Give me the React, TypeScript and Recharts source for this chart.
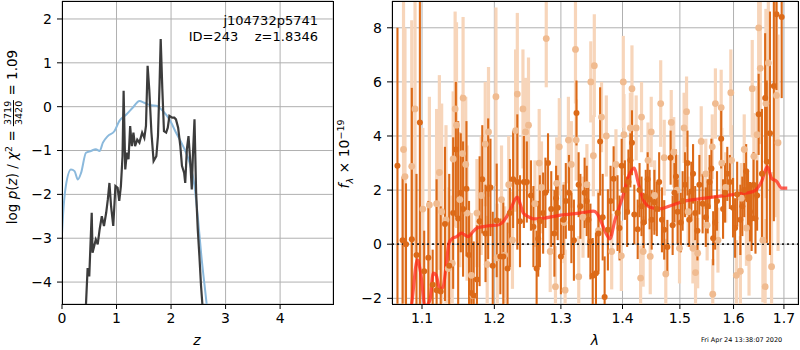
import React from 'react'
import {
  ComposedChart, Line, Scatter, ErrorBar, XAxis, YAxis, CartesianGrid, ReferenceLine,
} from 'recharts'

const FONT = '"DejaVu Sans", sans-serif'

// left panel: redshift fit
const priorZ = [0, 0.02, 0.07, 0.165, 0.23, 0.29, 0.35, 0.44, 0.53, 0.62, 0.69, 0.75, 0.84, 0.96, 1.05, 1.18, 1.3, 1.42, 1.51, 1.63, 1.73, 1.85, 1.97, 2.09, 2.22, 2.34, 2.43, 2.49, 2.55, 2.65, 2.72]
const priorLog = [-2.9, -2.45, -1.81, -1.43, -1.47, -1.66, -1.51, -1.05, -1.01, -0.97, -1.01, -0.82, -0.67, -0.56, -0.33, -0.18, -0.02, 0.13, 0.09, 0.03, 0.02, -0.1, -0.29, -0.59, -0.9, -1.28, -1.81, -2.5, -3.33, -4.47, -5.3]

const pzZ = [0.43, 0.44, 0.47, 0.5, 0.545, 0.56, 0.59, 0.62, 0.655, 0.69, 0.73, 0.77, 0.81, 0.84, 0.87, 0.9, 0.94, 0.98, 1.02, 1.05, 1.08, 1.11, 1.13, 1.16, 1.19, 1.22, 1.25, 1.28, 1.31, 1.34, 1.38, 1.42, 1.47, 1.51, 1.54, 1.57, 1.6, 1.64, 1.68, 1.73, 1.76, 1.79, 1.81, 1.84, 1.87, 1.91, 1.94, 1.97, 2.02, 2.06, 2.09, 2.13, 2.17, 2.2, 2.24, 2.26, 2.29, 2.32, 2.35, 2.38, 2.4, 2.43, 2.46, 2.49, 2.52, 2.55, 2.58, 2.6]
const pzLog = [-4.9, -4.5, -3.68, -3.87, -2.42, -3.33, -3.18, -3.03, -3.14, -2.8, -2.5, -2.72, -2.42, -2.12, -1.74, -2.27, -2.72, -1.81, -1.85, -2.15, -1.81, -1.13, 0.36, -1.43, -1.05, -1.2, -0.44, -0.9, -0.59, -0.9, -0.75, -0.82, -0.59, -0.71, -0.44, 0.93, 0.4, -0.59, -1.24, -1.13, -0.67, 0.55, 1.54, 0.4, -0.56, -0.59, -0.48, -0.21, -0.25, -0.25, -0.29, -0.48, -0.9, -1.35, -1.51, -1.74, -0.97, -0.67, -1.2, -1.89, -1.13, -0.29, -1.96, -2.8, -3.41, -4.09, -4.6, -5.0]

// right panel: 1D spectrum, two sets of measurements + model
// (second half of each dark list: extra bars from the dense middle band)
const darkWave = [1.068, 1.0746, 1.079, 1.0866, 1.0927, 1.0972, 1.1029, 1.1084, 1.1142, 1.1195, 1.125, 1.1308, 1.1366, 1.142, 1.1457, 1.1489, 1.1525, 1.1557, 1.1604, 1.164, 1.1673, 1.1705, 1.1751, 1.1789, 1.1827, 1.1873, 1.1911, 1.1944, 1.1977, 1.2034, 1.2087, 1.213, 1.2192, 1.2226, 1.2274, 1.2336, 1.2376, 1.2434, 1.2478, 1.2577, 1.2626, 1.2675, 1.2725, 1.28, 1.285, 1.2899, 1.295, 1.3, 1.3077, 1.3127, 1.3205, 1.3246, 1.3308, 1.3376, 1.3438, 1.3507, 1.356, 1.3628, 1.3702, 1.3756, 1.3851, 1.3916, 1.3986, 1.4078, 1.4133, 1.416, 1.4258, 1.4324, 1.4397, 1.4464, 1.4547, 1.4631, 1.468, 1.472, 1.4776, 1.4834, 1.4902, 1.4959, 1.5016, 1.5093, 1.5138, 1.5208, 1.5279, 1.5356, 1.5416, 1.5475, 1.5546, 1.5613, 1.5685, 1.5764, 1.5837, 1.5929, 1.5991, 1.607, 1.6132, 1.6207, 1.6282, 1.6352, 1.6428, 1.6491, 1.6556, 1.662, 1.6653, 1.6717, 1.6795, 1.6848, 1.6954,
  1.254, 1.265, 1.276, 1.2925, 1.304, 1.3165, 1.328, 1.341, 1.347, 1.36, 1.367, 1.38, 1.395, 1.404, 1.41, 1.42, 1.429, 1.436, 1.443, 1.45, 1.459, 1.487, 1.493, 1.505, 1.517, 1.524, 1.532, 1.551, 1.558, 1.565, 1.58, 1.588, 1.603, 1.617, 1.6245, 1.632, 1.639, 1.646]
const darkFlux = [2.9, 0.15, 0.0, 0.18, -0.4, 4.5, -1.0, -0.5, -1.5, -1.7, -1.75, 0.75, -0.8, 1.15, 3.5, 0.95, 1.9, 1.3, 2.05, -0.4, -1.8, -1.9, -1.3, 0.85, 2.4, 0.4, 2.05, 2.1, -0.8, 0.88, -0.45, -0.45, -0.9, 1.15, 2.4, 2.3, 0.85, 2.3, 2.3, 0.65, -0.9, 0.85, 1.15, 3.0, 1.3, 0.4, 1.35, -0.45, 1.6, 1.9, 0.15, 4.85, 1.4, 1.9, 0.9, -1.17, -1.07, 3.8, -1.95, 0.53, 2.42, 1.15, 2.9, 1.2, 3.1, 3.75, 0.55, 1.4, 1.75, 1.65, 1.55, 2.3, 0.9, 0.53, -0.1, 3.2, 1.9, 1.2, 0.8, 2.2, 3.0, 1.95, 1.15, 2.2, 1.5, 1.0, 2.3, 0.22, 1.6, 3.9, 1.9, 2.3, 1.35, 1.85, 0.9, 2.0, 1.65, 0.95, 0.95, 4.8, 2.6, 5.4, 3.05, 4.1, 5.85, 8.5, 8.4,
  1.8, 0.2, 1.9, 1.7, 0.9, 0.6, 2.2, 1.6, 0.1, 0.4, 1.0, 1.6, 0.6, 2.0, 2.3, 1.1, 2.0, 0.8, 2.4, 0.9, 1.3, 0.7, 2.5, 1.6, 0.9, 2.6, 0.5, 1.4, 2.8, 0.8, 1.3, 2.6, 0.6, 1.4, 2.7, 1.2, 2.2, 1.8]
const darkErr = [5.1, 2.35, 2.25, 5.6, 3.0, 7.0, 1.5, 2.1, 1.3, 4.1, 3.15, 2.85, 3.4, 2.8, 2.5, 3.6, 2.2, 2.5, 2.5, 2.0, 2.2, 2.0, 2.0, 2.4, 2.0, 1.8, 2.6, 1.8, 2.0, 2.1, 1.4, 2.0, 1.7, 2.0, 1.8, 2.5, 1.7, 1.7, 1.5, 1.5, 1.4, 1.7, 1.5, 1.1, 1.4, 1.6, 1.2, 1.4, 1.4, 1.4, 1.5, 1.2, 1.2, 1.3, 1.4, 1.4, 1.5, 2.0, 1.5, 1.5, 1.2, 1.4, 1.0, 1.3, 1.0, 1.2, 1.1, 1.1, 1.0, 1.1, 1.2, 1.1, 1.2, 1.1, 1.0, 1.0, 1.1, 1.2, 1.1, 1.2, 1.2, 1.1, 1.0, 1.1, 1.1, 1.1, 1.0, 1.0, 1.1, 1.1, 1.1, 1.0, 1.1, 1.2, 1.3, 1.0, 1.1, 1.2, 1.3, 1.5, 2.4, 2.4, 3.0, 4.5, 5.0, 2.8, 3.0,
  1.3, 1.4, 1.3, 1.2, 1.3, 1.3, 1.2, 1.3, 1.4, 1.5, 1.6, 1.3, 1.2, 1.1, 1.2, 1.1, 1.0, 1.1, 1.0, 1.1, 1.0, 1.1, 1.0, 1.1, 1.0, 1.1, 1.1, 1.0, 1.1, 1.0, 1.1, 1.0, 1.1, 1.1, 1.0, 1.1, 1.2, 1.3]

const lightWave = [1.0758, 1.0777, 1.0865, 1.0908, 1.1011, 1.1098, 1.1195, 1.1232, 1.1263, 1.1322, 1.1353, 1.1407, 1.142, 1.1447, 1.1466, 1.1512, 1.1548, 1.1557, 1.1594, 1.1612, 1.1673, 1.1696, 1.1751, 1.1812, 1.1869, 1.1897, 1.1916, 1.2023, 1.2042, 1.2104, 1.2151, 1.2209, 1.2264, 1.2311, 1.2336, 1.242, 1.2458, 1.2503, 1.26, 1.2665, 1.27, 1.2773, 1.2834, 1.2915, 1.2934, 1.2975, 1.305, 1.3066, 1.3118, 1.3164, 1.323, 1.3241, 1.3282, 1.335, 1.3413, 1.3476, 1.3518, 1.3533, 1.36, 1.3651, 1.373, 1.3819, 1.389, 1.398, 1.4013, 1.4024, 1.4133, 1.416, 1.4232, 1.4308, 1.4324, 1.4352, 1.4436, 1.4475, 1.4492, 1.455, 1.4658, 1.472, 1.4748, 1.4845, 1.489, 1.495, 1.4993, 1.5076, 1.5121, 1.515, 1.5237, 1.5285, 1.5325, 1.539, 1.5475, 1.55, 1.5596, 1.5605, 1.5655, 1.5703, 1.5764, 1.5776, 1.585, 1.5948, 1.5961, 1.6054, 1.6132, 1.615, 1.6207, 1.625, 1.6301, 1.6364, 1.6396, 1.6459, 1.6491, 1.6523, 1.6575, 1.662, 1.6635, 1.6684, 1.6749, 1.6848, 1.688]
const lightFlux = [3.5, 2.5, 2.88, 5.0, 1.3, 1.45, 1.5, 2.65, 1.2, 0.9, -0.9, -0.7, 3.15, 5.0, 4.4, 1.65, 3.35, 5.4, 2.95, 1.15, -1.15, -1.9, 1.15, 1.8, 3.7, -0.75, 4.15, 5.45, -0.5, 1.65, -0.4, 2.2, 0.15, 4.2, 5.55, 5.0, 4.15, 4.4, 1.5, 3.0, 2.1, 7.6, -0.27, -1.57, 2.25, 3.6, 0.8, -1.7, 3.85, 2.95, 7.2, 3.85, -1.2, 1.0, 2.2, 6.0, 3.27, 6.6, 0.5, 4.7, 4.0, -0.27, 2.95, -0.43, 6.0, 4.05, 4.3, 5.75, 4.3, -1.25, 4.7, -0.27, 3.1, -0.45, 4.15, 1.8, 5.2, 3.2, -1.1, 4.5, 3.4, 2.0, -0.15, 4.3, 4.9, 1.2, -0.15, -1.05, -0.33, 3.8, 2.6, 0.7, 3.6, -1.85, 5.2, 0.15, 5.05, 3.0, 2.1, 5.6, 3.1, -1.15, -1.0, 1.7, 3.5, 0.6, -0.5, 5.75, 3.25, 4.05, 8.0, 6.5, 0.15, -1.57, 5.2, 6.7, -0.83, 5.5, 3.75]
const lightErr = [6.0, 5.5, 5.4, 5.3, 3.0, 4.0, 3.5, 3.6, 4.0, 3.5, 3.0, 2.5, 2.5, 3.6, 3.8, 2.5, 2.2, 3.0, 2.5, 2.5, 2.3, 2.0, 2.0, 2.2, 2.3, 1.8, 2.4, 3.3, 2.0, 2.0, 1.8, 1.8, 1.8, 3.0, 3.0, 2.2, 2.0, 2.5, 1.6, 2.0, 1.7, 1.8, 1.5, 1.5, 1.7, 1.8, 1.5, 1.5, 1.6, 1.6, 2.0, 1.5, 1.5, 1.5, 1.5, 1.5, 1.5, 1.9, 1.5, 1.3, 1.5, 1.4, 1.3, 1.3, 1.7, 1.5, 1.3, 1.6, 1.2, 1.2, 1.3, 1.3, 1.4, 1.4, 1.3, 1.3, 1.6, 1.4, 1.3, 1.2, 1.3, 1.3, 1.3, 1.3, 1.3, 1.3, 1.3, 1.3, 1.3, 1.3, 1.3, 1.3, 1.2, 1.3, 1.3, 1.2, 1.4, 1.3, 1.3, 1.6, 1.3, 1.3, 1.3, 1.3, 1.3, 1.4, 1.4, 1.8, 1.6, 1.8, 2.5, 2.8, 2.3, 2.5, 3.5, 4.0, 3.5, 4.5, 4.0]

const modelWave = [1.084, 1.0865, 1.0938, 1.0983, 1.104, 1.1106, 1.115, 1.1187, 1.1241, 1.1285, 1.1322, 1.1363, 1.1413, 1.1468, 1.1537, 1.1583, 1.163, 1.1677, 1.1748, 1.1841, 1.1938, 1.2035, 1.2107, 1.218, 1.2254, 1.2302, 1.2337, 1.2376, 1.2426, 1.25, 1.2576, 1.2728, 1.2935, 1.3143, 1.3355, 1.3517, 1.3573, 1.3654, 1.3737, 1.379, 1.3874, 1.3987, 1.4127, 1.42, 1.4268, 1.4354, 1.447, 1.4645, 1.4881, 1.5061, 1.5367, 1.5679, 1.606, 1.6383, 1.655, 1.6662, 1.675, 1.6851, 1.6953, 1.7068]
const modelFlux = [-2.6, -2.18, -0.58, -1.07, -2.3, -2.06, -1.07, -1.13, -1.69, -1.56, -0.83, 0.04, 0.22, 0.28, 0.41, 0.34, 0.28, 0.41, 0.59, 0.65, 0.69, 0.7, 0.78, 1.02, 1.39, 1.66, 1.74, 1.51, 1.15, 1.02, 0.94, 0.96, 1.05, 1.11, 1.17, 1.22, 1.15, 0.78, 0.35, 0.2, 0.9, 1.64, 2.63, 2.81, 2.26, 1.64, 1.37, 1.31, 1.46, 1.58, 1.68, 1.76, 1.85, 1.95, 2.32, 2.87, 2.44, 2.32, 2.07, 2.07]

const waveTicks = [1.1, 1.2, 1.3, 1.4, 1.5, 1.6, 1.7]
const F_MIN = -2.21
const F_MAX = 8.99

// error bars are cut at the plot edges, like matplotlib's clipping
const withErr = (wave: number[], flux: number[], err: number[]) =>
  wave.map((x, i) => ({
    x,
    y: flux[i],
    err: [Math.min(err[i], flux[i] - F_MIN), Math.min(err[i], F_MAX - flux[i])],
  }))

const prior = priorZ.map((x, i) => ({ x, y: priorLog[i] }))
const logpz = pzZ.map((x, i) => ({ x, y: pzLog[i] }))
const dark = withErr(darkWave, darkFlux, darkErr)
const light = withErr(lightWave, lightFlux, lightErr)
const model = modelWave.map((x, i) => ({ x, y: modelFlux[i] }))

const minus = (v: number) => String(v).replace('-', '\u2212')
const tickStyle = { fill: '#000', fontSize: 14, fontFamily: FONT }
const DARK = '#dc6a18'
const LIGHT = '#f7d5ba'
const LIGHT_DOT = '#f0bb90'

function Frame({ left, top, width, height }: { left: number; top: number; width: number; height: number }) {
  return (
    <div style={{
      position: 'absolute', left, top, width: width + 1, height: height + 1,
      border: '1px solid #000', boxSizing: 'border-box', pointerEvents: 'none',
    }} />
  )
}

function Label({ x, y, rotate, children, style }: { x: number; y: number; rotate?: boolean; children: React.ReactNode; style?: React.CSSProperties }) {
  return (
    <div style={{
      position: 'absolute', left: x, top: y, whiteSpace: 'nowrap', fontFamily: FONT, fontSize: 14,
      transform: `translate(-50%, -50%)${rotate ? ' rotate(-90deg)' : ''}`, lineHeight: 1, ...style,
    }}>
      {children}
    </div>
  )
}

export default function App() {
  return (
    <div style={{ position: 'absolute', left: 0, top: 0, width: 800, height: 350, background: '#fff', fontFamily: FONT }}>
      <div style={{ position: 'absolute', left: 0, top: 0 }}>
        <ComposedChart width={340} height={350} margin={{ top: 1, right: 7, bottom: 0, left: 0 }}>
          <CartesianGrid stroke="#b0b0b0" strokeWidth={1} />
          <XAxis dataKey="x" type="number" domain={[0, 4.97]} ticks={[0, 1, 2, 3, 4]} allowDataOverflow
            height={46} tick={tickStyle} tickSize={5} tickMargin={4} axisLine={false} tickLine={{ stroke: '#000' }} />
          <YAxis type="number" domain={[-4.5, 2.41]} ticks={[-4, -3, -2, -1, 0, 1, 2]} allowDataOverflow
            width={62} tick={tickStyle} tickSize={5} tickMargin={5} axisLine={false} tickLine={{ stroke: '#000' }}
            tickFormatter={minus} />
          <Line data={prior} dataKey="y" type="monotone" stroke="#8bb9dc" strokeWidth={2} dot={false} isAnimationActive={false} />
          <Line data={logpz} dataKey="y" type="linear" stroke="#3c3c3c" strokeWidth={2.2} dot={false} isAnimationActive={false} />
        </ComposedChart>
      </div>
      <Frame left={62} top={1} width={271} height={303} />

      <div style={{ position: 'absolute', left: 340, top: 0 }}>
        <ComposedChart width={460} height={350} margin={{ top: 1, right: 2, bottom: 0, left: 0 }}>
          <CartesianGrid stroke="#b0b0b0" strokeWidth={1} />
          <XAxis dataKey="x" type="number" scale="log" domain={[1.061, 1.729]} ticks={waveTicks} allowDataOverflow
            height={46} tick={tickStyle} tickSize={5} tickMargin={4} axisLine={false} tickLine={{ stroke: '#000' }}
            tickFormatter={(v: number) => v.toFixed(1)} />
          <YAxis dataKey="y" type="number" domain={[F_MIN, F_MAX]} ticks={[-2, 0, 2, 4, 6, 8]} allowDataOverflow
            width={52} tick={tickStyle} tickSize={5} tickMargin={5} axisLine={false} tickLine={{ stroke: '#000' }}
            tickFormatter={minus} />
          <Scatter data={light} dataKey="y" isAnimationActive={false}
            shape={(p: any) => <circle cx={p.cx} cy={p.cy} r={3.4} fill={LIGHT_DOT} />}>
            <ErrorBar dataKey="err" direction="y" width={0} stroke={LIGHT} strokeWidth={3.2} isAnimationActive={false} />
          </Scatter>
          <Scatter data={dark} dataKey="y" isAnimationActive={false}
            shape={(p: any) => <circle cx={p.cx} cy={p.cy} r={3} fill={DARK} />}>
            <ErrorBar dataKey="err" direction="y" width={0} stroke={DARK} strokeWidth={2.1} isAnimationActive={false} />
          </Scatter>
          <ReferenceLine y={0} stroke="#222" strokeWidth={1.8} strokeDasharray="2 3" />
          <Line data={model} dataKey="y" type="monotone" stroke="#ff2a1a" strokeOpacity={0.75} strokeWidth={3.2}
            dot={false} isAnimationActive={false} />
        </ComposedChart>
      </div>
      <Frame left={392} top={1} width={406} height={303} />

      <div style={{ position: 'absolute', right: 482, top: 13, textAlign: 'right', fontSize: 13, lineHeight: '15.5px', whiteSpace: 'pre' }}>
        {'j104732p5741\nID=243    z=1.8346'}
      </div>

      <Label x={13} y={137} rotate style={{ fontSize: 13.5 }}>
        log <i>p</i>(<i>z</i>) / <i>χ</i><sup style={{ fontSize: 9.5 }}>2</sup> ={' '}
        <span style={{ display: 'inline-flex', flexDirection: 'column', alignItems: 'center', fontSize: 9.5, lineHeight: 1, verticalAlign: 'middle' }}>
          <span style={{ borderBottom: '1px solid #000', padding: '0 1px' }}>3719</span>
          <span>3420</span>
        </span>
        {' '}= 1.09
      </Label>
      <Label x={345} y={154} rotate>
        <i>f</i><sub style={{ fontSize: 9.5 }}><i>λ</i></sub> × 10<sup style={{ fontSize: 9.5 }}>−19</sup>
      </Label>
      <Label x={197} y={340}><i>z</i></Label>
      <Label x={595} y={340}><i>λ</i></Label>
      <div style={{ position: 'absolute', left: 701, top: 336, fontSize: 6.5, whiteSpace: 'nowrap' }}>
        Fri Apr 24 13:38:07 2020
      </div>
    </div>
  )
}
